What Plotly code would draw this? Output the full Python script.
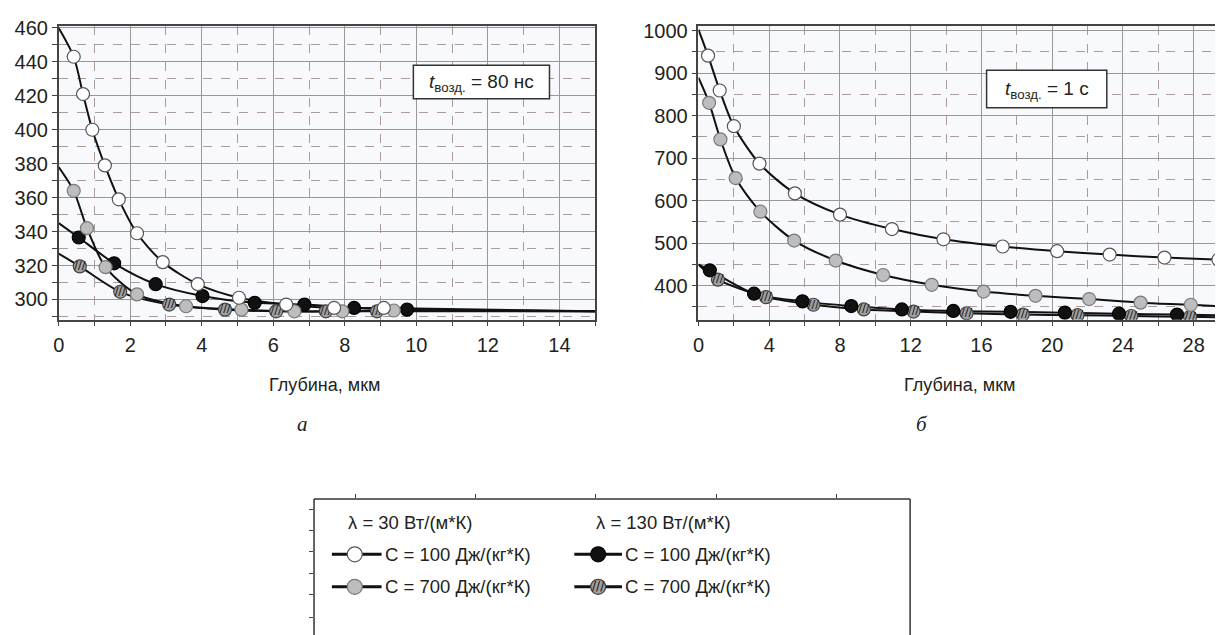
import plotly.graph_objects as go

W, H = 1223, 635
OFF = 8  # page body margin of the html page

# ---------------- Panel "а" : t = 80 нс ----------------
a_start = {"w": 460, "g": 378, "b": 345, "h": 327}
a_tail_x = 15
a_tail = {"w": 293, "g": 293, "b": 293, "h": 293}

a_x_w = [0.42, 0.68, 0.94, 1.29, 1.68, 2.19, 2.91, 3.89, 5.04, 6.36, 7.70, 9.09]
a_y_w = [443, 421, 400, 379, 359, 339, 322, 309, 301, 297, 295, 295]
a_x_g = [0.42, 0.79, 1.31, 2.19, 3.56, 5.11, 6.59, 7.93, 9.37]
a_y_g = [364, 342, 319, 303, 296, 294, 293, 293, 293.5]
a_x_b = [0.56, 1.55, 2.71, 4.02, 5.48, 6.87, 8.26, 9.74]
a_y_b = [336.5, 321.3, 309, 302, 298, 297, 295, 294]
a_x_h = [0.59, 1.72, 3.09, 4.65, 6.08, 7.47, 8.90]
a_y_h = [319.5, 304.5, 297, 294, 293, 293, 293]

# ---------------- Panel "б" : t = 1 с ----------------
b_start = {"w": 1002, "g": 889, "b": 450, "h": 449}
b_tail_x = 30
b_tail = {"w": 460, "g": 350, "b": 330, "h": 325}

b_x_w = [0.54, 1.2, 2.0, 3.45, 5.45, 8.0, 10.94, 13.85, 17.2, 20.28, 23.25, 26.35, 29.4]
b_y_w = [941, 859, 775, 687, 617, 567, 533, 509, 492, 481, 473, 466, 461]
b_x_g = [0.6, 1.24, 2.1, 3.5, 5.41, 7.76, 10.44, 13.19, 16.12, 19.06, 22.09, 25.0, 27.84]
b_y_g = [830, 744, 653, 574, 506, 459, 425, 402, 386, 376, 368.5, 360, 355]
b_x_b = [0.64, 3.14, 5.88, 8.64, 11.5, 14.41, 17.65, 20.72, 23.78, 27.06]
b_y_b = [436, 381, 363, 352, 344, 340.5, 338.5, 336.5, 334, 332]
b_x_h = [1.1, 3.82, 6.5, 9.35, 12.16, 15.16, 18.34, 21.43, 24.47, 27.8]
b_y_h = [414, 373, 355, 344, 339, 335, 332, 330.5, 328.6, 326.6]

x_ticks_a = [0, 2, 4, 6, 8, 10, 12, 14]
y_ticks_a = [300, 320, 340, 360, 380, 400, 420, 440, 460]
x_ticks_b = [0, 4, 8, 12, 16, 20, 24, 28]
y_ticks_b = [400, 500, 600, 700, 800, 900, 1000]

legend_head = ["λ = 30 Вт/(м*К)", "λ = 130 Вт/(м*К)"]
legend_items = ["С = 100 Дж/(кг*К)", "С = 700 Дж/(кг*К)", "С = 100 Дж/(кг*К)", "С = 700 Дж/(кг*К)"]

FONT = "Arial, Liberation Sans, sans-serif"
LINE_C = "#111111"
STY = {
    "w": dict(color="white", line=dict(color="#555555", width=1.2)),
    "g": dict(color="#bdbdbd", line=dict(color="#7a7a7a", width=1.2)),
    "b": dict(color="#111111", line=dict(color="#000000", width=1.2)),
    "h": dict(color="#a0a0a0", line=dict(color="#444444", width=1.2)),
}
MS = 13

fig = go.Figure()


def add_series(xs, ys, x0, y0, xt, yt, xa, ya):
    fig.add_trace(go.Scatter(
        x=[x0] + xs + [xt], y=[y0] + ys + [yt], mode="lines",
        line=dict(color=LINE_C, width=2, shape="spline", smoothing=0.8),
        xaxis=xa, yaxis=ya, showlegend=False, hoverinfo="skip"))


def add_markers(key, xs, ys, xa, ya, size=MS):
    fig.add_trace(go.Scatter(
        x=xs, y=ys, mode="markers",
        marker=dict(symbol="circle", size=size, **STY[key]),
        xaxis=xa, yaxis=ya, showlegend=False))
    if key == "h":
        fig.add_trace(go.Scatter(
            x=xs, y=ys, mode="text", text=["///"] * len(xs),
            textposition="middle center",
            textfont=dict(family="DejaVu Sans", size=11 if size <= MS else 12, color="#111111"),
            xaxis=xa, yaxis=ya, showlegend=False, hoverinfo="skip"))


series_a = {"w": (a_x_w, a_y_w), "g": (a_x_g, a_y_g), "b": (a_x_b, a_y_b), "h": (a_x_h, a_y_h)}
series_b = {"w": (b_x_w, b_y_w), "g": (b_x_g, b_y_g), "b": (b_x_b, b_y_b), "h": (b_x_h, b_y_h)}

for k, (xs, ys) in series_a.items():
    add_series(xs, ys, 0, a_start[k], a_tail_x, a_tail[k], "x", "y")
for k, (xs, ys) in series_b.items():
    add_series(xs, ys, 0, b_start[k], b_tail_x, b_tail[k], "x2", "y2")
for k in ["h", "b", "g", "w"]:
    add_markers(k, *series_a[k], "x", "y")
for k in ["h", "b", "g", "w"]:
    add_markers(k, *series_b[k], "x2", "y2")

# ---- legend glyphs (page pixel coordinates inside legend box) ----
BOX_L, BOX_T, BOX_R = 310, 497, 910
leg_rows = [553, 586]
leg_cols = [(328, 378, 351), (572, 620, 596)]
leg_keys = [["w", "g"], ["b", "h"]]
for ci, (l0, l1, mx) in enumerate(leg_cols):
    for ri, ry in enumerate(leg_rows):
        k = leg_keys[ci][ri]
        fig.add_trace(go.Scatter(x=[l0, l1], y=[ry, ry], mode="lines",
                                 line=dict(color=LINE_C, width=3),
                                 xaxis="x3", yaxis="y3", showlegend=False, hoverinfo="skip"))
        add_markers(k, [mx], [ry], "x3", "y3", size=15)

# ---- axes ----
GRID = "#9a9797"
MINOR = "#ab9c99"
AX = "#444444"


def fx(p):
    return (p - OFF) / W


def fy(p):
    return 1 - (p - OFF) / H


common = dict(ticks="outside", ticklen=5, tickcolor=AX, showline=True, linecolor=AX,
              linewidth=1.5, mirror=True, showgrid=True, gridcolor=GRID, gridwidth=1,
              zeroline=False, ticklabeloverflow="allow",
              tickfont=dict(family=FONT, size=20, color="#231f20"))


def minor(d):
    return dict(dtick=d, tick0=0, showgrid=True, gridcolor=MINOR, griddash="dash",
                ticks="outside", ticklen=5, tickcolor=AX)


PT, PB = 17, 315

fig.update_layout(
    width=W, height=H, margin=dict(l=0, r=0, t=0, b=0),
    paper_bgcolor="white", plot_bgcolor="white",
    xaxis=dict(domain=[fx(53), fx(593)], range=[0, 15], tickvals=x_ticks_a, minor=minor(1),
               anchor="y", ticklabelstandoff=2, **common),
    yaxis=dict(domain=[fy(PB), fy(PT)], range=[288.1, 461.2], tickvals=y_ticks_a, minor=minor(10),
               anchor="x", **common),
    xaxis2=dict(domain=[fx(697), 1.0], range=[0, 30], tickvals=x_ticks_b, minor=minor(2),
                anchor="y2", ticklabelstandoff=2, **common),
    yaxis2=dict(domain=[fy(PB), fy(PT)], range=[320, 1011], tickvals=y_ticks_b, minor=minor(50),
                anchor="x2", **common),
    xaxis3=dict(domain=[fx(BOX_L), fx(BOX_R)], range=[BOX_L, BOX_R], side="top",
                tickvals=[352, 473, 593, 715, 836], ticks="outside", ticklen=4, tickcolor=AX,
                showticklabels=False, showgrid=False, zeroline=False, showline=False,
                anchor="y3"),
    yaxis3=dict(domain=[0, fy(BOX_T)], range=[H + OFF, BOX_T],
                tickvals=[508, 529, 550, 572, 594, 617], ticks="outside", ticklen=4, tickcolor=AX,
                showticklabels=False, showgrid=False, zeroline=False, showline=False,
                anchor="x3"),
    showlegend=False,
)

shapes = [
    dict(type="rect", xref="x domain", yref="y domain", x0=0, x1=1, y0=0, y1=1,
         fillcolor="#f7f9fc", line=dict(width=0), layer="below"),
    dict(type="rect", xref="x2 domain", yref="y2 domain", x0=0, x1=1, y0=0, y1=1,
         fillcolor="#f7f9fc", line=dict(width=0), layer="below"),
    # t boxes
    dict(type="rect", xref="paper", yref="paper", x0=fx(410), x1=fx(547),
         y0=fy(91), y1=fy(57), fillcolor="white", line=dict(color="#333333", width=1.5)),
    dict(type="rect", xref="paper", yref="paper", x0=fx(987), x1=fx(1108),
         y0=fy(100), y1=fy(62), fillcolor="white", line=dict(color="#333333", width=1.5)),
    # legend box
    dict(type="line", xref="paper", yref="paper", x0=fx(BOX_L), x1=fx(BOX_R),
         y0=fy(BOX_T), y1=fy(BOX_T), line=dict(color="#333333", width=1.5)),
    dict(type="line", xref="paper", yref="paper", x0=fx(BOX_L), x1=fx(BOX_L),
         y0=fy(BOX_T), y1=0, line=dict(color="#333333", width=1.5)),
    dict(type="line", xref="paper", yref="paper", x0=fx(BOX_R), x1=fx(BOX_R),
         y0=fy(BOX_T), y1=0, line=dict(color="#333333", width=1.5)),
]
fig.update_layout(shapes=shapes)

ann = []


def text(x, y, s, size=18, xanchor="center", family=FONT, color="#231f20"):
    ann.append(dict(x=fx(x), y=fy(y), xref="paper", yref="paper", text=s,
                    showarrow=False, xanchor=xanchor, yanchor="middle",
                    font=dict(family=family, size=size, color=color)))


text(479, 75, "<i>t</i><sub>возд.</sub> = 80 нс", 19)
text(1048, 82, "<i>t</i><sub>возд.</sub> = 1 с", 19)
text(321, 381, "Глубина, мкм", 18)
text(960, 381, "Глубина, мкм", 18)
text(298, 421, "<i>а</i>", 21, family="Liberation Serif, Times New Roman, serif")
text(922, 421, "<i>б</i>", 21, family="Liberation Serif, Times New Roman, serif")
text(342, 521, legend_head[0], 18.5, xanchor="left")
text(592, 521, legend_head[1], 18.5, xanchor="left")
text(379, 553, legend_items[0], 18.5, xanchor="left")
text(379, 586, legend_items[1], 18.5, xanchor="left")
text(621, 553, legend_items[2], 18.5, xanchor="left")
text(621, 586, legend_items[3], 18.5, xanchor="left")
fig.update_layout(annotations=ann)

fig.write_html("out.html")
